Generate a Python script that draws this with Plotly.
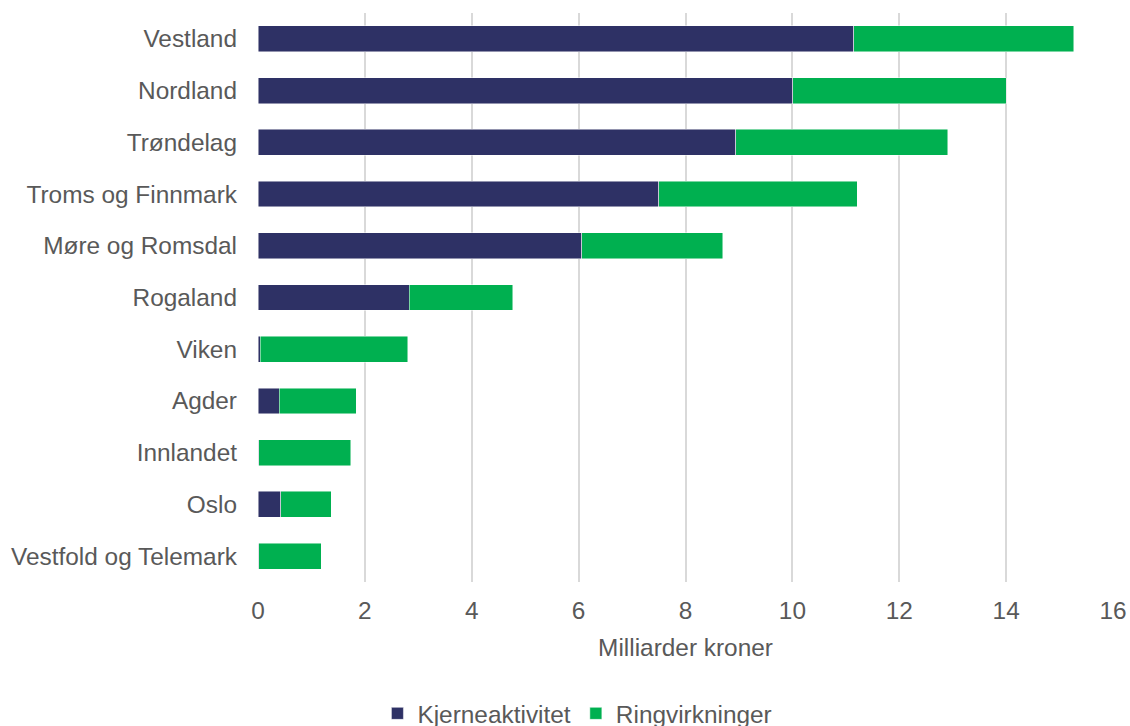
import plotly.graph_objects as go

categories = ["Vestland", "Nordland", "Trøndelag", "Troms og Finnmark", "Møre og Romsdal",
              "Rogaland", "Viken", "Agder", "Innlandet", "Oslo", "Vestfold og Telemark"]
kjerne = [11.15, 10.01, 8.94, 7.50, 6.06, 2.83, 0.04, 0.40, 0.01, 0.43, 0.01]
totals = [15.27, 14.00, 12.91, 11.21, 8.70, 4.77, 2.80, 1.84, 1.74, 1.37, 1.18]
ring = [round(t - k, 2) for t, k in zip(totals, kjerne)]
x_ticks = [0, 2, 4, 6, 8, 10, 12, 14, 16]

font = "Liberation Sans, Arial, sans-serif"
fs = 24.4
fig = go.Figure()
fig.add_trace(go.Bar(y=categories, x=kjerne, orientation="h", name="Kjerneaktivitet",
                     marker=dict(color="#2E3165", line=dict(width=0.8, color="rgba(255,255,255,0.6)"))))
fig.add_trace(go.Bar(y=categories, x=ring, orientation="h", name="Ringvirkninger",
                     marker=dict(color="#00B050", line=dict(width=0.8, color="rgba(255,255,255,0.6)"))))

fig.update_layout(
    barmode="stack", bargap=0.5,
    width=1130, height=736,
    margin=dict(l=258, r=17, t=13, b=154, autoexpand=False),
    plot_bgcolor="white", paper_bgcolor="white",
    font=dict(family=font, size=fs, color="#595959"),
    xaxis=dict(range=[0, 16], tickvals=x_ticks, showgrid=True, gridcolor="#D9D9D9", gridwidth=2,
               zeroline=False, showline=False, ticks="", ticklabelstandoff=12, automargin=False,
               tickfont=dict(size=fs, color="#595959"),
               title=dict(text="Milliarder kroner", font=dict(size=fs, color="#595959"), standoff=15)),
    yaxis=dict(autorange="reversed", showgrid=False, ticks="", ticklen=0, ticklabelstandoff=20,
               automargin=False, tickfont=dict(size=fs, color="#595959")),
    legend=dict(orientation="h", xref="container", yref="container", x=0.511, y=0.0,
                xanchor="center", yanchor="bottom", font=dict(size=fs, color="#595959"),
                traceorder="normal", borderwidth=0, tracegroupgap=0),
    showlegend=True,
)
fig.write_html("out.html", config={"displayModeBar": False},
               post_script="document.body.style.margin='0';document.body.style.overflow='hidden';")
